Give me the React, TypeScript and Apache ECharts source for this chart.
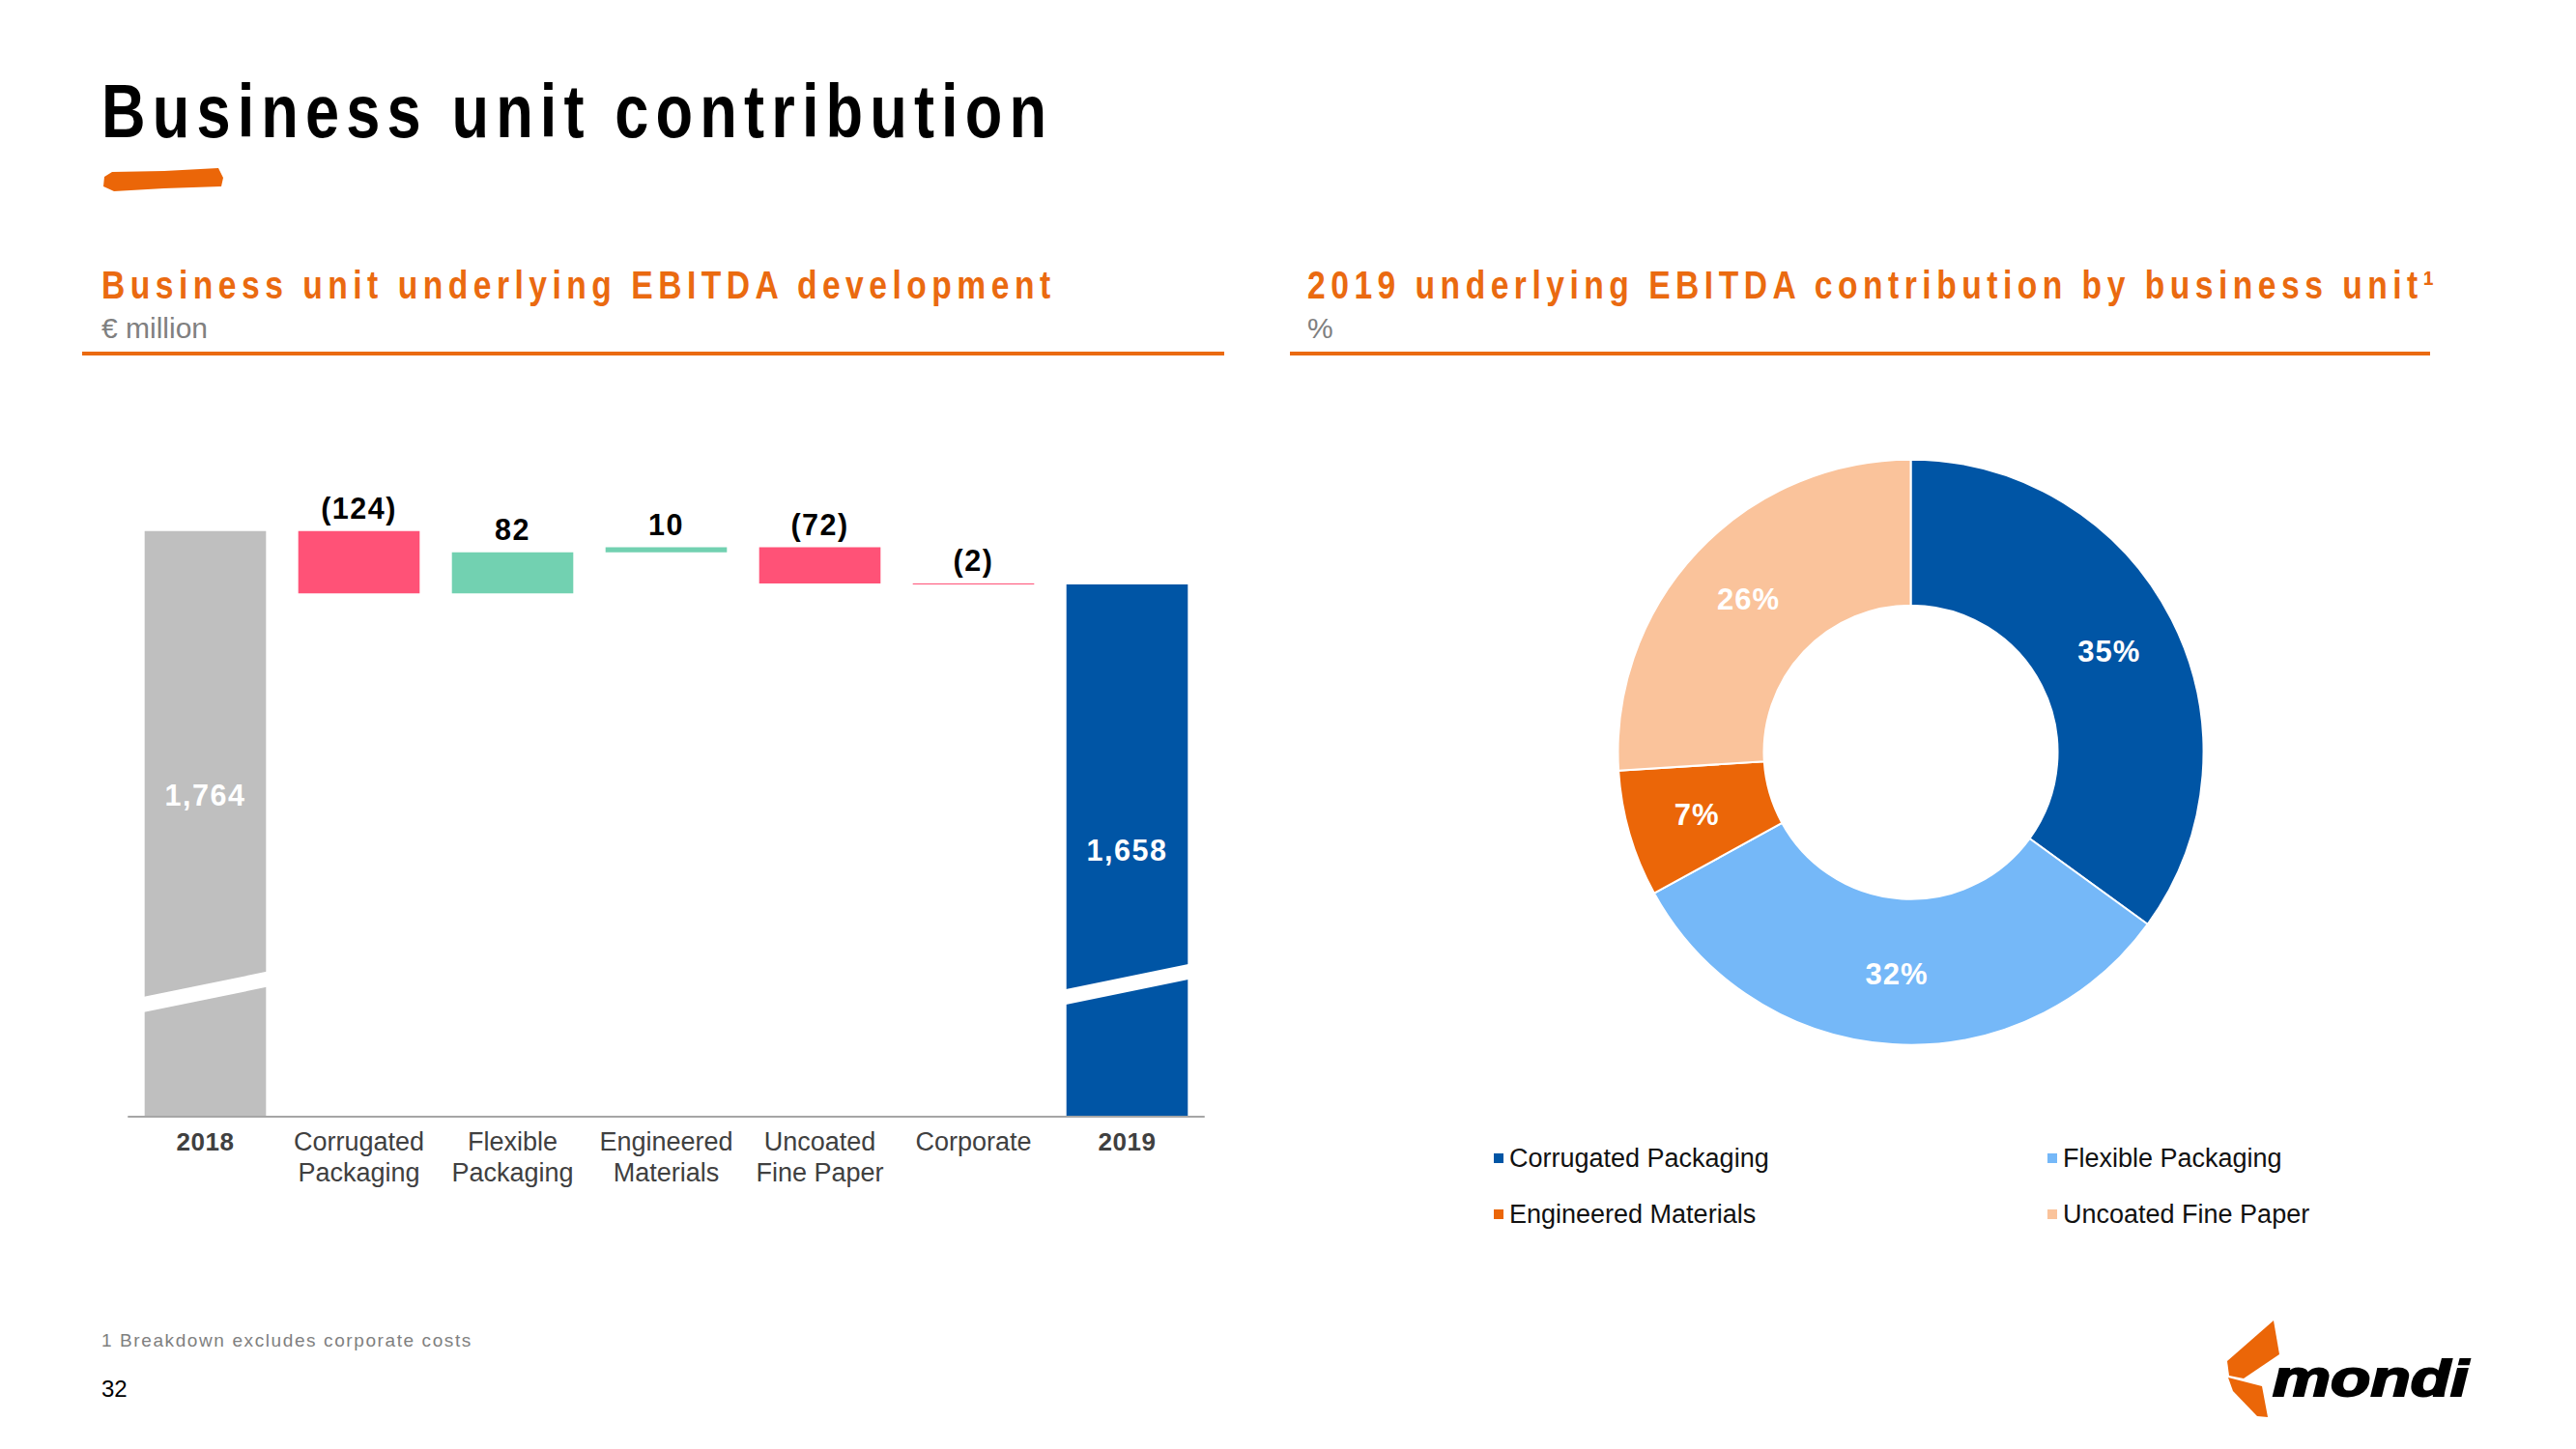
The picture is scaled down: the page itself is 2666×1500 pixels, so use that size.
import React, { useEffect, useRef } from "react";
import * as echarts from "echarts";

// ---------- data ----------
const categories = ["2018", "Corrugated\nPackaging", "Flexible\nPackaging", "Engineered\nMaterials", "Uncoated\nFine Paper", "Corporate", "2019"];
const startValue = 1764;
const deltas = [-124, 82, 10, -72, -2];
const endValue = 1658;
const breakValues = [848, 863]; // where the axis-break slash sits on the 2018 and 2019 bars
const yMin = 600;
const yMax = 1800;

const pieNames = ["Corrugated Packaging", "Flexible Packaging", "Engineered Materials", "Uncoated Fine Paper"];
const pieValues = [35, 32, 7, 26];
const pieColors = ["#0055A5", "#75B8F8", "#EB6608", "#FAC39B"];

// ---------- styles ----------
const SANS = '"Liberation Sans", Arial, sans-serif';
const ORANGE = "#EA6A10";
const C_TOTAL0 = "#BFBFBF";
const C_TOTAL1 = "#0055A5";
const C_NEG = "#FF5277";
const C_POS = "#72D1B1";
const NARROW_SCALE = 0.82;

const css = `
body{margin:0}
#mchart text[style*="77px"]{letter-spacing:8.7px}
#mchart text[style*="41px"]{letter-spacing:6.7px}
#mchart text[style*="30.5px"]{letter-spacing:1.5px}
#mchart text[style*="31px"]{letter-spacing:1px}
#mchart text[style*="19px"]{letter-spacing:1.6px}
#mchart text[style*="26px"]{letter-spacing:0.5px}
`;

function fmtNum(v: number) {
  return v.toLocaleString("en-US");
}
function fmtDelta(v: number) {
  return v < 0 ? `(${Math.abs(v)})` : `${v}`;
}

function buildOption() {
  const baseData: (number | string)[] = ["-"];
  const barData: any[] = [];
  barData.push({
    value: startValue,
    itemStyle: { color: C_TOTAL0 },
    label: { position: "inside", offset: [0, -30], color: "#ffffff", formatter: fmtNum(startValue) },
  });
  let running = startValue;
  deltas.forEach((d) => {
    const next = running + d;
    baseData.push(Math.min(running, next));
    barData.push({
      value: Math.abs(d),
      itemStyle: { color: d < 0 ? C_NEG : C_POS },
      label: { position: "top", distance: 8, color: "#000000", formatter: fmtDelta(d) },
    });
    running = next;
  });
  baseData.push("-");
  barData.push({
    value: endValue,
    itemStyle: { color: C_TOTAL1 },
    label: { position: "inside", color: "#ffffff", formatter: fmtNum(endValue) },
  });

  const breakData = [
    [0, breakValues[0]],
    [categories.length - 1, breakValues[1]],
  ];

  const txt = (text: string, x: number, y: number, size: number, weight: string, fill: string, scaleX = 1) => ({
    type: "group",
    x,
    y,
    scaleX,
    silent: true,
    children: [
      {
        type: "text",
        silent: true,
        style: {
          text,
          fontSize: size,
          fontWeight: weight,
          fontFamily: SANS,
          fill,
          align: "left",
          verticalAlign: "middle",
        },
      },
    ],
  });

  return {
    animation: false,
    backgroundColor: "#ffffff",
    grid: { left: 133, top: 531, width: 1113, height: 625, containLabel: false },
    xAxis: {
      type: "category",
      data: categories.map((c, i) =>
        i === 0 || i === categories.length - 1
          ? { value: c, textStyle: { fontWeight: "bold", fontSize: 26, color: "#404040" } }
          : c
      ),
      axisLine: { lineStyle: { color: "#A6A6A6", width: 2 } },
      axisTick: { show: false },
      axisLabel: {
        interval: 0,
        margin: 10,
        fontSize: 27,
        lineHeight: 32,
        fontFamily: SANS,
        color: "#404040",
      },
      z: 10,
    },
    yAxis: {
      type: "value",
      min: yMin,
      max: yMax,
      show: false,
      splitLine: { show: false },
    },
    legend: [
      {
        data: [pieNames[0], pieNames[2]],
        orient: "vertical",
        left: 1544,
        top: 1184,
        padding: 0,
        itemWidth: 12,
        itemHeight: 12,
        itemGap: 28,
        icon: "rect",
        selectedMode: false,
        textStyle: { fontSize: 27, lineHeight: 30, fontFamily: SANS, color: "#111111" },
      },
      {
        data: [pieNames[1], pieNames[3]],
        orient: "vertical",
        left: 2117,
        top: 1184,
        padding: 0,
        itemWidth: 12,
        itemHeight: 12,
        itemGap: 28,
        icon: "rect",
        selectedMode: false,
        textStyle: { fontSize: 27, lineHeight: 30, fontFamily: SANS, color: "#111111" },
      },
    ],
    series: [
      {
        type: "bar",
        stack: "wf",
        data: baseData,
        itemStyle: { color: "transparent" },
        barCategoryGap: "21%",
        silent: true,
        label: { show: false },
      },
      {
        type: "bar",
        stack: "wf",
        data: barData,
        barCategoryGap: "21%",
        silent: true,
        label: {
          show: true,
          fontFamily: SANS,
          fontWeight: "bold",
          fontSize: 30.5,
        },
      },
      {
        type: "custom",
        silent: true,
        z: 5,
        data: breakData,
        renderItem: (params: any, api: any) => {
          const pt = api.coord([api.value(0), api.value(1)]);
          const w = api.size([1, 0])[0] * 0.79;
          const half = w / 2 + 3;
          const drop = 13.5;
          const t = 8;
          return {
            type: "polygon",
            shape: {
              points: [
                [pt[0] - half, pt[1] + drop - t],
                [pt[0] + half, pt[1] - drop - t],
                [pt[0] + half, pt[1] - drop + t],
                [pt[0] - half, pt[1] + drop + t],
              ],
            },
            style: { fill: "#ffffff" },
          };
        },
      },
      {
        type: "pie",
        center: [1977.5, 778.7],
        radius: [152, 303],
        startAngle: 90,
        clockwise: true,
        silent: true,
        avoidLabelOverlap: false,
        itemStyle: { borderColor: "#ffffff", borderWidth: 2 },
        label: {
          show: true,
          position: "inside",
          formatter: "{c}%",
          color: "#ffffff",
          fontFamily: SANS,
          fontWeight: "bold",
          fontSize: 31,
        },
        labelLine: { show: false },
        data: pieNames.map((n, i) => ({ name: n, value: pieValues[i], itemStyle: { color: pieColors[i] } })),
      },
    ],
    graphic: [
      txt("Business unit contribution", 105, 115, 77, "bold", "#000000", NARROW_SCALE),
      {
        type: "polygon",
        silent: true,
        shape: {
          points: [
            [108, 183], [116, 178], [170, 177], [226, 174], [231, 184], [229, 193], [170, 195], [118, 198], [107, 193],
          ],
        },
        style: { fill: "#EB6608" },
      },
      txt("Business unit underlying EBITDA development", 105, 295, 41, "bold", ORANGE, NARROW_SCALE),
      txt("€ million", 105, 339, 30, "normal", "#808080"),
      { type: "rect", silent: true, shape: { x: 85, y: 364, width: 1182, height: 4 }, style: { fill: ORANGE } },
      txt("2019 underlying EBITDA contribution by business unit¹", 1353, 295, 41, "bold", ORANGE, NARROW_SCALE),
      txt("%", 1353, 339, 30, "normal", "#808080"),
      { type: "rect", silent: true, shape: { x: 1335, y: 364, width: 1180, height: 4 }, style: { fill: ORANGE } },
      txt("1 Breakdown excludes corporate costs", 105, 1387, 19, "normal", "#808080"),
      txt("32", 105, 1437, 24, "normal", "#000000"),
      // mondi logo
      {
        type: "polygon",
        silent: true,
        shape: { points: [[2305, 1409], [2353, 1367], [2359, 1402], [2322, 1427], [2307, 1424]] },
        style: { fill: "#EB6608" },
      },
      {
        type: "polygon",
        silent: true,
        shape: { points: [[2306, 1426], [2341, 1435], [2347, 1467], [2336, 1466], [2311, 1440]] },
        style: { fill: "#EB6608" },
      },
      {
        type: "group",
        x: 2352,
        y: 1427,
        scaleX: 1.3,
        children: [
          {
            type: "text",
            silent: true,
            style: {
              text: "mondi",
              fontSize: 52,
              fontWeight: "bold",
              fontStyle: "italic",
              fontFamily: SANS,
              fill: "#000000",
              stroke: "#000000",
              lineWidth: 2,
              align: "left",
              verticalAlign: "middle",
            },
          },
        ],
      },
    ],
  };
}

export default function App() {
  const ref = useRef<HTMLDivElement>(null);
  useEffect(() => {
    const chart = echarts.init(ref.current as HTMLDivElement, null, { renderer: "svg" });
    chart.setOption(buildOption() as any);
    return () => chart.dispose();
  }, []);
  return (
    <>
      <style>{css}</style>
      <div id="mchart" ref={ref} style={{ width: 2666, height: 1500 }} />
    </>
  );
}
